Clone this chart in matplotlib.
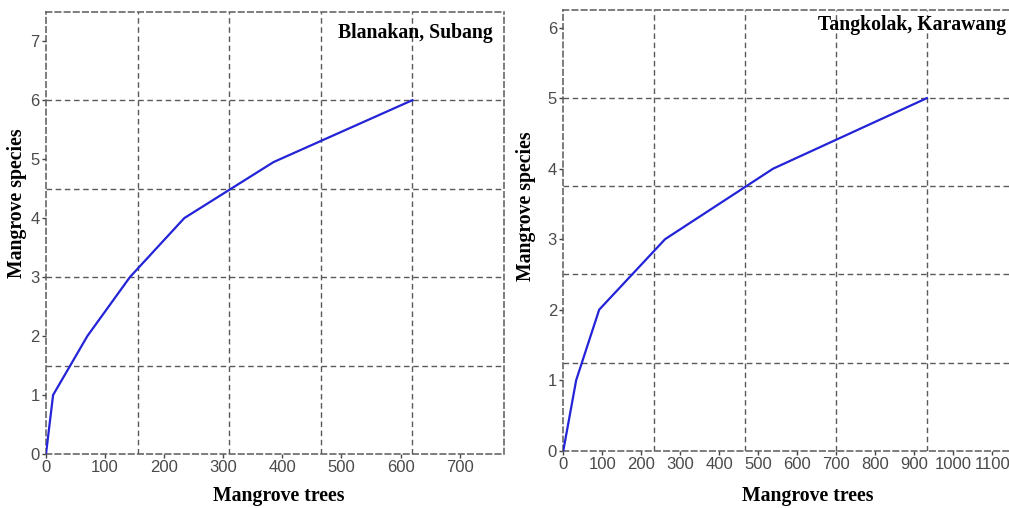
import matplotlib
matplotlib.use("Agg")
import matplotlib.pyplot as plt

# Data
blanakan_trees = [0, 12, 70, 142, 234, 385, 620]
blanakan_species = [0, 1, 2, 3, 4, 4.95, 6]
tangkolak_trees = [0, 33, 92, 261, 538, 932]
tangkolak_species = [0, 1, 2, 3, 4, 5]

left_xticks = [0, 100, 200, 300, 400, 500, 600, 700]
left_yticks = [0, 1, 2, 3, 4, 5, 6, 7]
right_xticks = [0, 100, 200, 300, 400, 500, 600, 700, 800, 900, 1000, 1100]
right_yticks = [0, 1, 2, 3, 4, 5, 6]

plt.rcParams['lines.scale_dashes'] = False

W, H = 1009, 508
fig = plt.figure(figsize=(W / 100, H / 100), dpi=100)

GRID_C = '#5a5a5a'
DASH = (0, (4.0, 2.6))
serif = ['Liberation Serif', 'DejaVu Serif']
sans = ['Liberation Sans', 'DejaVu Sans']
LABEL_FS = 14.2


def make_axes(px_left, px_right, px_top, px_bottom):
    return fig.add_axes([px_left / W, 1 - px_bottom / H,
                         (px_right - px_left) / W, (px_bottom - px_top) / H])


def style(ax, xlim, ylim, xticks, yticks, ngrid):
    ax.set_xlim(*xlim)
    ax.set_ylim(*ylim)
    ax.xaxis.remove_overlapping_locs = False
    ax.yaxis.remove_overlapping_locs = False
    ax.set_xticks(xticks)
    ax.set_yticks(yticks)
    gx = [xlim[1] * i / ngrid for i in range(1, ngrid)]
    gy = [ylim[1] * i / ngrid for i in range(1, ngrid)]
    ax.set_xticks(gx, minor=True)
    ax.set_yticks(gy, minor=True)
    ax.tick_params(which='minor', length=0)
    ax.tick_params(which='major', length=3, width=1, color='#444444',
                   labelsize=12, labelcolor='#4a4a4a', pad=1.5)
    for lab in ax.get_xticklabels() + ax.get_yticklabels():
        lab.set_family(sans)
    ax.grid(which='minor', color=GRID_C, linestyle=DASH, linewidth=1.0)
    ax.grid(which='major', visible=False)
    for sp in ax.spines.values():
        sp.set_linestyle(DASH)
        sp.set_color(GRID_C)
        sp.set_linewidth(1.1)
    ax.set_axisbelow(True)


# Left panel
ax1 = make_axes(46, 504, 11.7, 454)
ax1.plot(blanakan_trees, blanakan_species, color='#2323d8', linewidth=1.6, zorder=3)
style(ax1, (0, 775), (0, 7.5), left_xticks, left_yticks, 5)
ax1.set_xlabel('Mangrove trees', family=serif, fontweight='bold', fontsize=LABEL_FS, va='center')
ax1.xaxis.set_label_coords(0.509, -42 / 442.3)
ax1.set_ylabel('Mangrove species', family=serif, fontweight='bold', fontsize=LABEL_FS, va='center')
ax1.yaxis.set_label_coords(-29 / 458, 0.567)
fig.text(493 / W, 1 - 33 / H, 'Blanakan, Subang', family=serif, fontweight='bold',
         fontsize=LABEL_FS, ha='right', va='center')

# Right panel
ax2 = make_axes(563.3, 563.3 + 454.4, 10, 450.7)
ax2.plot(tangkolak_trees, tangkolak_species, color='#2323d8', linewidth=1.6, zorder=3)
style(ax2, (0, 1165), (0, 6.25), right_xticks, right_yticks, 5)
ax2.set_xlabel('Mangrove trees', family=serif, fontweight='bold', fontsize=LABEL_FS, va='center')
ax2.xaxis.set_label_coords(0.537, -45 / 440.7)
ax2.set_ylabel('Mangrove species', family=serif, fontweight='bold', fontsize=LABEL_FS, va='center')
ax2.yaxis.set_label_coords((526 - 563.3) / 454.4, 0.555)
fig.text(1006.5 / W, 1 - 25 / H, 'Tangkolak, Karawang', family=serif, fontweight='bold',
         fontsize=LABEL_FS, ha='right', va='center')

fig.savefig('out.png', dpi=100)
